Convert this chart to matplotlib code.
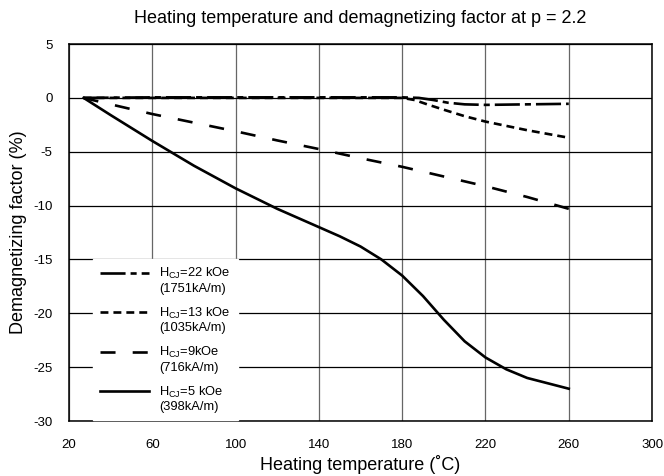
import matplotlib
matplotlib.use('Agg')
import numpy as np
import matplotlib.pyplot as plt
from matplotlib.legend_handler import HandlerLine2D

plt.rcParams['font.family'] = ['Liberation Sans', 'DejaVu Sans']
plt.rcParams['mathtext.fontset'] = 'custom'
plt.rcParams['mathtext.rm'] = 'Liberation Sans'
plt.rcParams['axes.unicode_minus'] = False

# data
t_22 = [27, 60, 100, 140, 180, 188, 195, 202, 210, 220, 240, 260]
d_22 = [0, 0.05, 0.05, 0.05, 0.05, 0.0, -0.2, -0.45, -0.6, -0.65, -0.6, -0.55]

t_13 = [27, 60, 100, 140, 180, 186, 192, 200, 210, 220, 230, 240, 250, 260]
d_13 = [0, 0, 0, 0, 0, -0.2, -0.6, -1.1, -1.7, -2.2, -2.6, -3.0, -3.35, -3.7]

t_9 = [27, 40, 60, 80, 100, 120, 140, 160, 180, 200, 220, 240, 260]
d_9 = [0, -0.6, -1.5, -2.3, -3.1, -3.95, -4.75, -5.6, -6.4, -7.3, -8.2, -9.2, -10.3]

t_5 = [27, 40, 60, 80, 100, 120, 140, 150, 160, 170, 180, 190, 200, 210, 220, 230, 240, 250, 260]
d_5 = [0, -1.6, -4.0, -6.3, -8.4, -10.3, -12.0, -12.85, -13.8, -15.0, -16.5, -18.4, -20.6, -22.6, -24.1, -25.2, -26.0, -26.5, -27.0]

labels = ['H$_{\\mathregular{CJ}}$=22 kOe\n(1751kA/m)',
          'H$_{\\mathregular{CJ}}$=13 kOe\n(1035kA/m)',
          'H$_{\\mathregular{CJ}}$=9kOe\n(716kA/m)',
          'H$_{\\mathregular{CJ}}$=5 kOe\n(398kA/m)']


class TopLineHandler(HandlerLine2D):
    # put the legend line next to the first text row
    def create_artists(self, legend, orig_handle, xdescent, ydescent,
                       width, height, fontsize, trans):
        arts = super().create_artists(legend, orig_handle, xdescent, ydescent,
                                      width, height, fontsize, trans)
        for a in arts:
            a.set_ydata(np.asarray(a.get_ydata()) + 0.6 * fontsize)
        return arts


fig = plt.figure(figsize=(6.64, 4.76), dpi=100)
ax = fig.add_axes([0.104, 0.1155, 0.878, 0.792])
ax.set_xlim(20, 300)
ax.set_ylim(-30, 5)

lw = 1.9
ax.plot(t_22, d_22, color='black', lw=lw, dashes=(9.5, 1.9, 2.3, 1.9), label=labels[0])
ax.plot(t_13, d_13, color='black', lw=lw, dashes=(3.0, 1.9), label=labels[1])
l9, = ax.plot(t_9, d_9, color='black', lw=lw, label=labels[2])
ax.plot(t_5, d_5, color='black', lw=lw, label=labels[3])

# stretch the long-dash gap a little so the line ends on a dash like the original
pts = ax.transData.transform(np.column_stack([t_9, d_9]))
length = np.hypot(*np.diff(pts, axis=0).T).sum() * 72 / fig.dpi / lw
dash = 5.7
gap = (length - 16 * dash) / 15
l9.set_dashes((dash, gap))

ax.set_xticks(range(20, 301, 40))
ax.set_yticks(range(-30, 6, 5))
ax.tick_params(length=0, labelsize=9.5)
ax.tick_params(axis='x', pad=13)
ax.tick_params(axis='y', pad=12)
ax.xaxis.grid(True, color='#666666', lw=0.9)
ax.yaxis.grid(True, color='black', lw=0.9)
ax.set_axisbelow(True)
for s in ax.spines.values():
    s.set_linewidth(1.1)

ax.set_title('Heating temperature and demagnetizing factor at p = 2.2', fontsize=13, pad=15)
ax.set_xlabel('Heating temperature (\u02daC)', fontsize=13, labelpad=3)
ax.set_ylabel('Demagnetizing factor (%)', fontsize=13, labelpad=4)

leg = ax.legend(loc='upper left', bbox_to_anchor=(0.041, 0.43), fontsize=9.3,
                frameon=True, fancybox=False, edgecolor='white', framealpha=1,
                handlelength=3.8, handletextpad=0.8, labelspacing=0.82,
                borderpad=0.55, borderaxespad=0,
                handler_map={matplotlib.lines.Line2D: TopLineHandler()})

fig.savefig('out.png', dpi=100)
